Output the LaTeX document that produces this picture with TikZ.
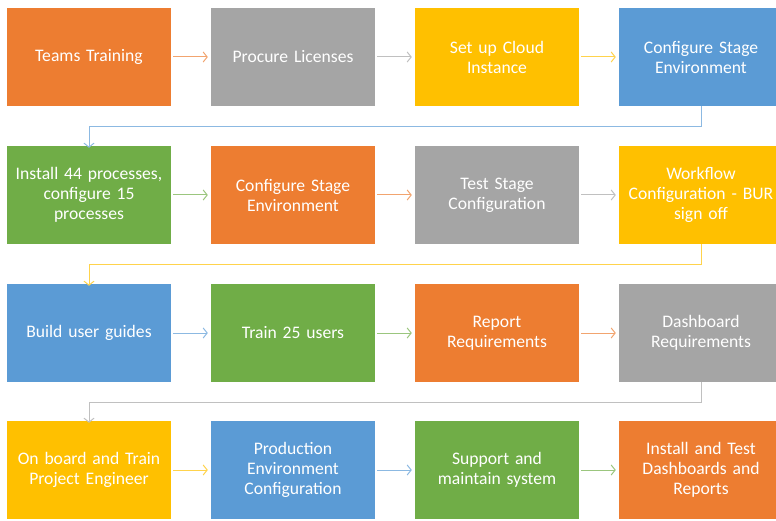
\documentclass[tikz,border=0pt]{standalone}
\usepackage{fontspec}
\setmainfont{Carlito}
\usepackage{tikz}
\usetikzlibrary{arrows.meta}

\definecolor{borange}{HTML}{ED7D31}
\definecolor{bgray}{HTML}{A5A5A5}
\definecolor{byellow}{HTML}{FFC000}
\definecolor{bblue}{HTML}{5B9BD5}
\definecolor{bgreen}{HTML}{70AD47}

\begin{document}
\begin{tikzpicture}[x=1pt, y=-1pt,
	stepbox/.style={fill=#1, draw=none, minimum width=164pt, minimum height=98pt,
		text width=158pt, align=center, text=white, inner sep=0pt,
		font=\fontsize{17.6}{20}\selectfont},
	flow/.style={draw=#1!70!white, line width=1pt, -{Straight Barb[length=4pt,width=10pt]}}]
	\useasboundingbox (0,0) rectangle (776,521);
	% first row
	\node[stepbox=borange] (teams) at (89,57) {Teams Training};
	\node[stepbox=bgray] (licenses) at (293,57) {Procure Licenses};
	\node[stepbox=byellow] (cloud) at (497,57) {Set up Cloud\\Instance};
	\node[stepbox=bblue] (stage) at (701,57) {Configure Stage\\Environment};
	% second row
	\node[stepbox=bgreen] (install) at (89,195) {Install 44 processes,\\configure 15\\processes};
	\node[stepbox=borange] (stagetwo) at (293,195) {Configure Stage\\Environment};
	\node[stepbox=bgray] (test) at (497,195) {Test Stage\\Configuration};
	\node[stepbox=byellow] (workflow) at (701,195) {Workflow\\Configuration - BUR\\sign off};
	% third row
	\node[stepbox=bblue] (guides) at (89,333) {Build user guides};
	\node[stepbox=bgreen] (train) at (293,333) {Train 25 users};
	\node[stepbox=borange] (report) at (497,333) {Report\\Requirements};
	\node[stepbox=bgray] (dash) at (701,333) {Dashboard\\Requirements};
	% fourth row
	\node[stepbox=byellow] (onboard) at (89,470) {On board and Train\\Project Engineer};
	\node[stepbox=bblue] (prod) at (293,470) {Production\\Environment\\Configuration};
	\node[stepbox=bgreen] (support) at (497,470) {Support and\\maintain system};
	\node[stepbox=borange] (reports) at (701,470) {Install and Test\\Dashboards and\\Reports};

	\draw[flow=borange] ([xshift=2pt]teams.east) -- ([xshift=-3pt]licenses.west);
	\draw[flow=bgray] ([xshift=2pt]licenses.east) -- ([xshift=-3pt]cloud.west);
	\draw[flow=byellow] ([xshift=2pt]cloud.east) -- ([xshift=-3pt]stage.west);
	\draw[flow=bblue] (stage.south) -- ++(0,20) -| ([yshift=-2pt]install.north);
	\draw[flow=bgreen] ([xshift=2pt]install.east) -- ([xshift=-3pt]stagetwo.west);
	\draw[flow=borange] ([xshift=2pt]stagetwo.east) -- ([xshift=-3pt]test.west);
	\draw[flow=bgray] ([xshift=2pt]test.east) -- ([xshift=-3pt]workflow.west);
	\draw[flow=byellow] (workflow.south) -- ++(0,20) -| ([yshift=-2pt]guides.north);
	\draw[flow=bblue] ([xshift=2pt]guides.east) -- ([xshift=-3pt]train.west);
	\draw[flow=bgreen] ([xshift=2pt]train.east) -- ([xshift=-3pt]report.west);
	\draw[flow=borange] ([xshift=2pt]report.east) -- ([xshift=-3pt]dash.west);
	\draw[flow=bgray] (dash.south) -- ++(0,20) -| ([yshift=-2pt]onboard.north);
	\draw[flow=byellow] ([xshift=2pt]onboard.east) -- ([xshift=-3pt]prod.west);
	\draw[flow=bblue] ([xshift=2pt]prod.east) -- ([xshift=-3pt]support.west);
	\draw[flow=bgreen] ([xshift=2pt]support.east) -- ([xshift=-3pt]reports.west);
\end{tikzpicture}
\end{document}
